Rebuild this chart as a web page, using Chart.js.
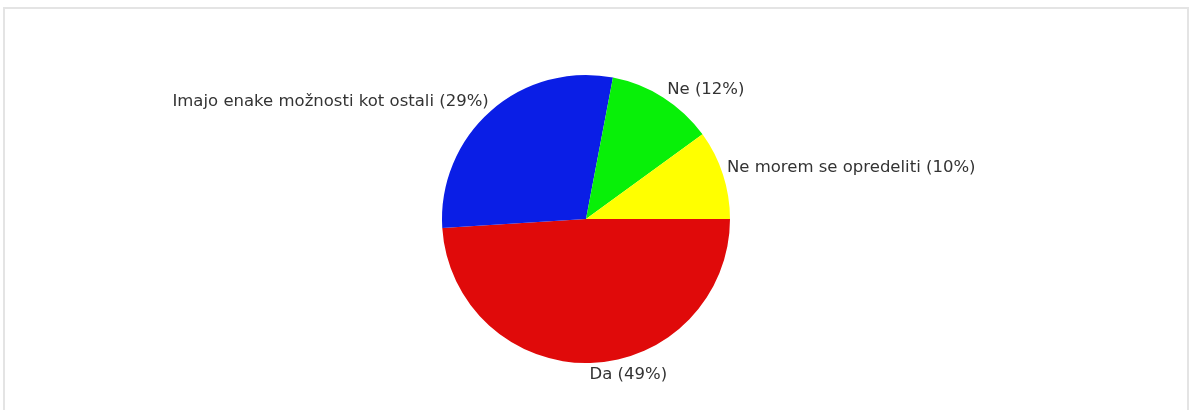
<!DOCTYPE html>
<html>
<head>
<meta charset="utf-8">
<script src="https://cdn.jsdelivr.net/npm/chart.js@4"></script>
<style>
  body { margin: 0; background: #fff; overflow: hidden; }
  #frame { position: absolute; left: 3px; top: 7px; width: 1182px; height: 420px;
           border: 2px solid #e4e4e4; border-bottom: none; }
  #wrap { position: absolute; left: 0; top: 0; width: 1190px; height: 410px; }
</style>
</head>
<body>
<div id="frame"></div>
<div id="wrap"><canvas id="pieChart" width="1190" height="410"></canvas></div>
<script>
var labels = ['Da', 'Imajo enake možnosti kot ostali', 'Ne', 'Ne morem se opredeliti'];
var values = [49, 29, 12, 10];
var colors = ['#e00a0a', '#0a1ee6', '#08f008', '#ffff00'];

// labels next to each slice, like the old image charts
var sliceLabels = {
    id: 'sliceLabels',
    afterDraw: function(chart) {
        var c = chart.ctx;
        var meta = chart.getDatasetMeta(0);
        c.save();
        c.font = '16.5px "DejaVu Sans", Verdana, sans-serif';
        c.fillStyle = '#333';
        meta.data.forEach(function(arc, i) {
            var p = arc.getProps(['x', 'y', 'startAngle', 'endAngle', 'outerRadius'], true);
            var mid = (p.startAngle + p.endAngle) / 2;
            var px = p.x + Math.cos(mid) * p.outerRadius;
            var py = p.y + Math.sin(mid) * p.outerRadius;
            var text = labels[i] + ' (' + values[i] + '%)';
            if (Math.cos(mid) >= 0) {
                c.textAlign = 'left';
                px += Math.cos(mid) > 0.3 ? 4 : -1;
            } else {
                c.textAlign = 'right';
                px -= 2;
                py -= 2;
            }
            if (Math.sin(mid) > 0) {
                c.textBaseline = 'top';
                py += 4;
            } else {
                c.textBaseline = 'bottom';
                py += 1;
            }
            c.fillText(text, px, py);
        });
        c.restore();
    }
};

var ctx = document.getElementById('pieChart').getContext('2d');
var pieChart = new Chart(ctx, {
    type: 'pie',
    data: {
        labels: labels,
        datasets: [{
            data: values,
            backgroundColor: colors,
            borderWidth: 0
        }]
    },
    options: {
        responsive: false,
        animation: false,
        rotation: 90,
        layout: {
            padding: { top: 75, bottom: 47, left: 442, right: 460 }
        },
        plugins: {
            legend: { display: false },
            tooltip: { enabled: false }
        }
    },
    plugins: [sliceLabels]
});
</script>
</body>
</html>
